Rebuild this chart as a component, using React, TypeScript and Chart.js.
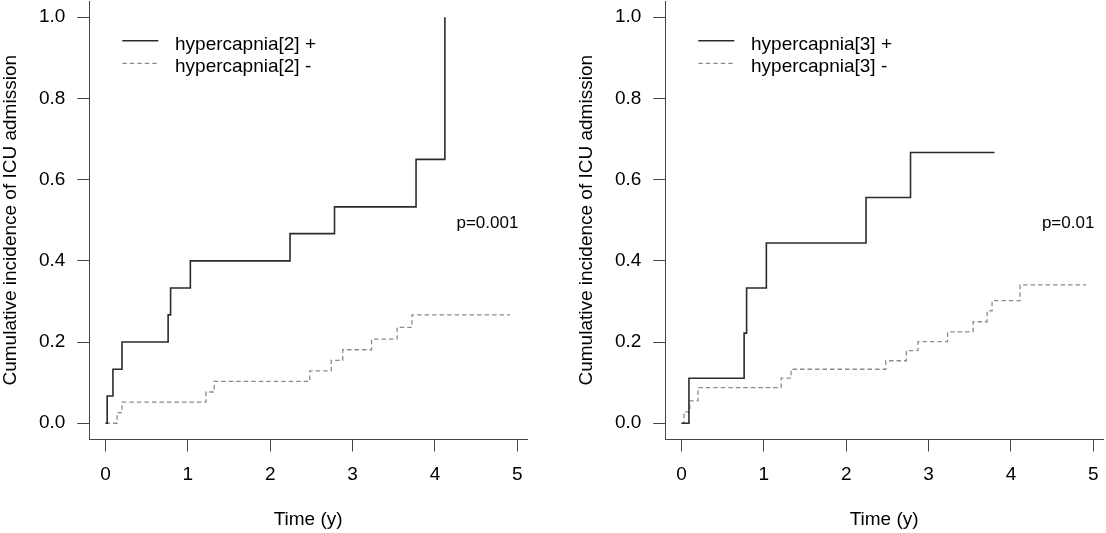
import { useEffect, useRef } from "react";
import Chart from "chart.js/auto";

const FONT = "'Liberation Sans', Arial, sans-serif";

const timeTicks = [0, 1, 2, 3, 4, 5];
const incidenceTicks = [0, 0.2, 0.4, 0.6, 0.8, 1.0];

// hypercapnia[2]
const h2PosTime = [0, 0.02, 0.09, 0.2, 0.76, 0.79, 1.03, 2.24, 2.78, 3.77, 4.12];
const h2PosInc = [0, 0.067, 0.133, 0.2, 0.267, 0.333, 0.4, 0.467, 0.533, 0.65, 1.0];
const h2NegTime = [0, 0.14, 0.2, 1.22, 1.32, 2.48, 2.74, 2.88, 3.23, 3.54, 3.72, 4.91];
const h2NegInc = [0, 0.026, 0.052, 0.077, 0.103, 0.129, 0.155, 0.181, 0.207, 0.236, 0.267, 0.267];

// hypercapnia[3]
const h3PosTime = [0, 0.09, 0.76, 0.79, 1.03, 2.24, 2.78, 3.8];
const h3PosInc = [0, 0.111, 0.222, 0.333, 0.444, 0.556, 0.667, 0.667];
const h3NegTime = [0, 0.03, 0.1, 0.2, 1.21, 1.33, 2.48, 2.73, 2.87, 3.23, 3.54, 3.71, 3.77, 4.11, 4.91];
const h3NegInc = [0, 0.028, 0.055, 0.088, 0.111, 0.133, 0.154, 0.179, 0.201, 0.225, 0.25, 0.277, 0.302, 0.341, 0.341];

const pValueX = 5;
const pValueY = 0.482;

interface PanelProps {
    group: string;
    posTime: number[];
    posInc: number[];
    negTime: number[];
    negInc: number[];
    pText: string;
    left: number;
    width: number;
    padRight: number;
}

const toPoints = (t: number[], v: number[]) => t.map((x, i) => ({ x, y: v[i] }));

const Panel: React.FC<PanelProps> = ({ group, posTime, posInc, negTime, negInc, pText, left, width, padRight }) => {
    const chartRef = useRef<HTMLCanvasElement | null>(null);
    const chartInstance = useRef<Chart | null>(null);

    useEffect(() => {
        if (chartInstance.current) {
            chartInstance.current.destroy();
        }
        if (!chartRef.current) return;

        // legend rows and p value, drawn inside the plot
        const annotations = {
            id: "annotations",
            afterDraw(chart: any) {
                const { ctx, chartArea } = chart;
                ctx.save();
                ctx.font = `19px ${FONT}`;
                chart.data.datasets.forEach((ds: any, i: number) => {
                    const ly = chartArea.top + 39.7 + i * 22.6;
                    ctx.strokeStyle = ds.borderColor;
                    ctx.lineWidth = ds.borderWidth;
                    ctx.setLineDash(ds.borderDash || []);
                    ctx.beginPath();
                    ctx.moveTo(chartArea.left + 33, ly);
                    ctx.lineTo(chartArea.left + 69, ly);
                    ctx.stroke();
                    ctx.setLineDash([]);
                    ctx.fillStyle = "#000";
                    ctx.textAlign = "left";
                    ctx.textBaseline = "alphabetic";
                    ctx.fillText(ds.label, chartArea.left + 85.7, ly + 8.8);
                });
                ctx.font = `17px ${FONT}`;
                ctx.textAlign = "right";
                ctx.fillText(pText, chart.scales.x.getPixelForValue(pValueX) + 1, chart.scales.y.getPixelForValue(pValueY));
                ctx.restore();
            },
        };

        const axisColor = "#444";
        const tickFont = { family: FONT, size: 19 };

        chartInstance.current = new Chart(chartRef.current, {
            type: "line",
            data: {
                datasets: [
                    {
                        label: `${group} +`,
                        data: toPoints(posTime, posInc),
                        stepped: "before",
                        borderColor: "#2b2b2b",
                        borderWidth: 1.6,
                        pointRadius: 0,
                        fill: false,
                    },
                    {
                        label: `${group} -`,
                        data: toPoints(negTime, negInc),
                        stepped: "before",
                        borderColor: "#8c8c8c",
                        borderWidth: 1.3,
                        borderDash: [4.5, 3],
                        pointRadius: 0,
                        fill: false,
                    },
                ],
            },
            options: {
                responsive: false,
                animation: false,
                layout: { padding: { left: 0, top: 1, right: padRight, bottom: 0 } },
                plugins: { legend: { display: false }, tooltip: { enabled: false } },
                scales: {
                    x: {
                        type: "linear",
                        min: -0.197,
                        max: 5.117,
                        afterBuildTicks: (s: any) => {
                            s.ticks = timeTicks.map((value) => ({ value }));
                        },
                        afterFit: (s: any) => {
                            s.height = 93.5;
                            s.paddingLeft = 0;
                            s.paddingRight = 0;
                        },
                        ticks: {
                            color: "#000",
                            font: tickFont,
                            padding: 12,
                            maxRotation: 0,
                            autoSkip: false,
                            callback: (v: any) => String(v),
                        },
                        grid: { drawOnChartArea: false, drawTicks: true, tickLength: 12, color: axisColor, lineWidth: 1 },
                        border: { display: true, color: axisColor, width: 1 },
                        title: {
                            display: true,
                            text: "Time (y)",
                            color: "#000",
                            font: tickFont,
                            padding: { top: 0, bottom: 2 },
                        },
                    },
                    y: {
                        type: "linear",
                        min: -0.04,
                        max: 1.04,
                        afterBuildTicks: (s: any) => {
                            s.ticks = incidenceTicks.map((value) => ({ value }));
                        },
                        afterFit: (s: any) => {
                            s.width = 89.3;
                            s.paddingTop = 0;
                            s.paddingBottom = 0;
                        },
                        ticks: {
                            color: "#000",
                            font: tickFont,
                            padding: 12,
                            autoSkip: false,
                            callback: (v: any) => Number(v).toFixed(1),
                        },
                        grid: { drawOnChartArea: false, drawTicks: true, tickLength: 12, color: axisColor, lineWidth: 1 },
                        border: { display: true, color: axisColor, width: 1 },
                        title: {
                            display: true,
                            text: "Cumulative incidence of ICU admission",
                            color: "#000",
                            font: tickFont,
                            padding: { top: -1, bottom: 0 },
                        },
                    },
                },
            },
            plugins: [annotations],
        } as any);

        return () => {
            chartInstance.current?.destroy();
            chartInstance.current = null;
        };
    }, [group, posTime, posInc, negTime, negInc, pText, padRight]);

    return (
        <div style={{ position: "absolute", left, top: 0, width, height: 533 }}>
            <canvas ref={chartRef} width={width} height={533} style={{ width, height: 533, display: "block" }} />
        </div>
    );
};

export default function App() {
    return (
        <div style={{ position: "fixed", left: 0, top: 0, width: 1106, height: 533, background: "#fff", overflow: "hidden" }}>
            <Panel
                group="hypercapnia[2]"
                posTime={h2PosTime}
                posInc={h2PosInc}
                negTime={h2NegTime}
                negInc={h2NegInc}
                pText="p=0.001"
                left={0}
                width={576}
                padRight={49}
            />
            <Panel
                group="hypercapnia[3]"
                posTime={h3PosTime}
                posInc={h3PosInc}
                negTime={h3NegTime}
                negInc={h3NegInc}
                pText="p=0.01"
                left={576}
                width={530}
                padRight={3}
            />
        </div>
    );
}
